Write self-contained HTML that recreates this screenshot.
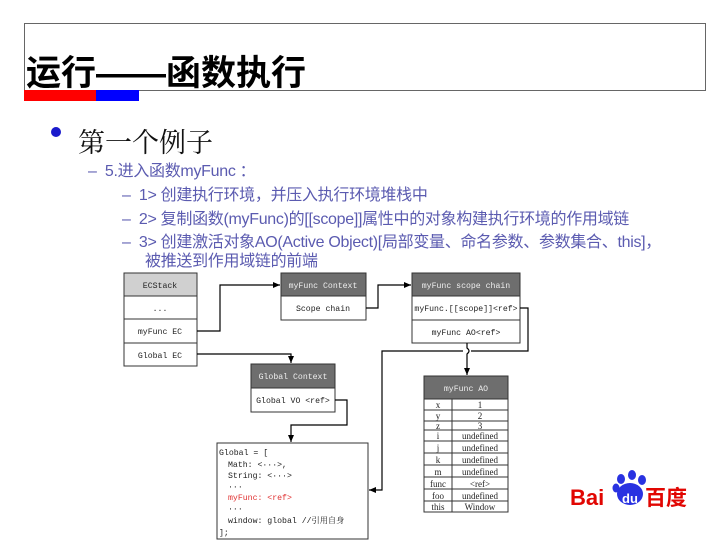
<!DOCTYPE html>
<html><head><meta charset="utf-8"><style>
body{margin:0;width:720px;height:540px;background:#fff;position:relative;overflow:hidden;font-family:"Liberation Sans","Noto Sans CJK SC",sans-serif}
.a{position:absolute;white-space:nowrap}
.t{color:#5b5bb0;font-size:16px;letter-spacing:-0.3px}
</style></head><body>
<div class="a" style="left:24px;top:23px;width:680px;height:66px;border:1px solid #666"></div>
<div class="a" style="left:26px;top:45px;font-size:35px;font-weight:bold;color:#000">运行——函数执行</div>
<div class="a" style="left:24px;top:90px;width:72px;height:11px;background:#f00"></div>
<div class="a" style="left:96px;top:90px;width:43px;height:11px;background:#00f"></div>
<div class="a" style="left:51px;top:127px;width:10px;height:10px;border-radius:50%;background:#1a1acc"></div>
<div class="a" style="left:78px;top:121px;font-size:27px;color:#111;font-family:'Noto Serif CJK SC',serif">第一个例子</div>
<div class="a t" style="left:88px;top:157px">–&nbsp; 5.进入函数myFunc ：</div>
<div class="a t" style="left:122px;top:181px">–&nbsp; 1&gt; 创建执行环境，并压入执行环境堆栈中</div>
<div class="a t" style="left:122px;top:205px">–&nbsp; 2&gt; 复制函数(myFunc)的[[scope]]属性中的对象构建执行环境的作用域链</div>
<div class="a t" style="left:122px;top:228px">–&nbsp; 3&gt; 创建激活对象AO(Active Object)[局部变量、命名参数、参数集合、this]，</div>
<div class="a t" style="left:145px;top:247px">被推送到作用域链的前端</div>

<svg class="a" style="left:0;top:0" width="720" height="540" font-family="Liberation Mono,'Noto Serif CJK SC',monospace" font-size="8.2">
<defs><marker id="m" markerWidth="8" markerHeight="8" refX="7" refY="4" orient="auto" markerUnits="userSpaceOnUse"><path d="M0,1 L7,4 L0,7z" fill="#000"/></marker></defs>
<g stroke="#333" fill="#fff">
<rect x="124" y="273" width="73" height="23" fill="#d0d0d0"/>
<rect x="124" y="296" width="73" height="23"/><rect x="124" y="319" width="73" height="24"/><rect x="124" y="343" width="73" height="23"/>
<rect x="281" y="273" width="85" height="23" fill="#6e6e6e"/><rect x="281" y="296" width="85" height="24"/>
<rect x="412" y="273" width="108" height="23" fill="#6e6e6e"/><rect x="412" y="296" width="108" height="24"/><rect x="412" y="320" width="108" height="23"/>
<rect x="251" y="364" width="84" height="24" fill="#6e6e6e"/><rect x="251" y="388" width="84" height="24"/>
<rect x="217" y="443" width="151" height="96"/>
<rect x="424" y="376" width="84" height="23" fill="#6e6e6e"/>
</g>
<g fill="#222" text-anchor="middle">
<text x="160" y="288">ECStack</text><text x="160" y="311">...</text><text x="160" y="334">myFunc EC</text><text x="160" y="358">Global EC</text>
<text x="323" y="288" fill="#eee">myFunc Context</text><text x="323" y="311">Scope chain</text>
<text x="466" y="288" fill="#eee">myFunc scope chain</text><text x="466" y="311">myFunc.[[scope]]&lt;ref&gt;</text><text x="466" y="335">myFunc AO&lt;ref&gt;</text>
<text x="293" y="379" fill="#eee">Global Context</text><text x="293" y="403">Global VO &lt;ref&gt;</text>
<text x="466" y="391" fill="#eee">myFunc AO</text>
</g>
<g fill="#222">
<text x="219" y="455">Global = [</text><text x="228" y="467">Math: &lt;···&gt;,</text><text x="228" y="478">String: &lt;···&gt;</text><text x="228" y="489">···</text>
<text x="228" y="500" fill="#e03030">myFunc: &lt;ref&gt;</text><text x="228" y="511">···</text><text x="228" y="523">window: global //引用自身</text><text x="219" y="535">];</text>
</g>
<g stroke="#333" fill="none">
<rect x="424" y="399" width="84" height="113" fill="#fff"/>
<line x1="452" y1="399" x2="452" y2="512"/>
</g>
<g stroke="#000" fill="none" stroke-width="1.2">
<polyline points="197,331 220,331 220,285 280,285" marker-end="url(#m)"/>
<polyline points="366,308 378,308 378,285 411,285" marker-end="url(#m)"/>
<polyline points="197,354 291,354 291,363" marker-end="url(#m)"/>
<polyline points="335,400 347,400 347,425 291,425 291,442" marker-end="url(#m)"/>
<path d="M520,308 L528,308 L528,351 L471,351 M463,351 L382,351 L382,490 L369,490" marker-end="url(#m)"/>
<path d="M467,343 L467,348 Q471,351 467,354 L467,375" marker-end="url(#m)"/>
</g>
<g stroke="#333">
<line x1="424" y1="410" x2="508" y2="410"/><line x1="424" y1="421" x2="508" y2="421"/><line x1="424" y1="430" x2="508" y2="430"/>
<line x1="424" y1="441" x2="508" y2="441"/><line x1="424" y1="453" x2="508" y2="453"/><line x1="424" y1="465" x2="508" y2="465"/>
<line x1="424" y1="477" x2="508" y2="477"/><line x1="424" y1="489" x2="508" y2="489"/><line x1="424" y1="501" x2="508" y2="501"/>
</g>
<g fill="#222" text-anchor="middle" font-family="Liberation Serif,serif" font-size="9">
<text x="438" y="408">x</text><text x="480" y="408">1</text>
<text x="438" y="419">y</text><text x="480" y="419">2</text>
<text x="438" y="429">z</text><text x="480" y="429">3</text>
<text x="438" y="439">i</text><text x="480" y="439">undefined</text>
<text x="438" y="451">j</text><text x="480" y="451">undefined</text>
<text x="438" y="463">k</text><text x="480" y="463">undefined</text>
<text x="438" y="475">m</text><text x="480" y="475">undefined</text>
<text x="438" y="487">func</text><text x="480" y="487">&lt;ref&gt;</text>
<text x="438" y="499">foo</text><text x="480" y="499">undefined</text>
<text x="438" y="510">this</text><text x="480" y="510">Window</text>
</g>
<g font-family="Liberation Sans,sans-serif" font-weight="bold">
<text x="570" y="505" font-size="22" fill="#e10602">Bai</text>
<g fill="#2932e1">
<ellipse cx="630" cy="494" rx="13" ry="11"/>
<ellipse cx="621" cy="479" rx="4" ry="5"/><ellipse cx="632" cy="475" rx="4" ry="5"/><ellipse cx="642" cy="480" rx="4" ry="5"/><ellipse cx="616" cy="488" rx="3.5" ry="4.5"/>
</g>
<text x="630" y="503" font-size="13" fill="#fff" text-anchor="middle">du</text>
<text x="645" y="505" font-size="21" fill="#e10602" font-family="Noto Sans CJK SC,sans-serif">百度</text>
</g>
</svg>
</body></html>
